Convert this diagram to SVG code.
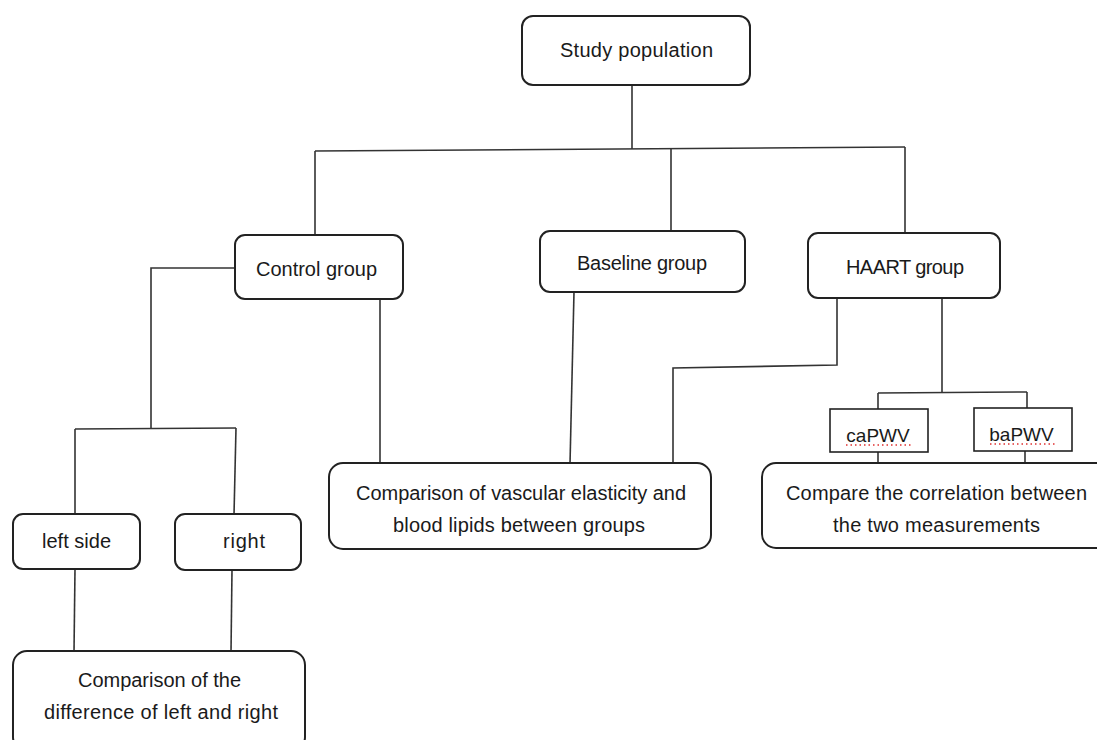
<svg xmlns="http://www.w3.org/2000/svg" width="1097" height="740" viewBox="0 0 1097 740">
<style>
.box{fill:#fff;stroke:#222;stroke-width:2}
.sq{fill:#fff;stroke:#222;stroke-width:1.6}
.ln{fill:none;stroke:#333;stroke-width:1.6}
text{font-family:"Liberation Sans",Arial,sans-serif;font-size:20px;fill:#1a1a1a;text-anchor:middle}
.pw{font-size:19px}
.sp{stroke:#e03030;stroke-width:1.5;stroke-dasharray:1.5 3;fill:none}
</style>
<rect width="1097" height="740" fill="#fff"/>
<g id="connectors">
<path class="ln" d="M632 86 V149"/>
<path class="ln" d="M315 151 L905 147"/>
<path class="ln" d="M315 151 V235"/>
<path class="ln" d="M671 148 V231"/>
<path class="ln" d="M905 147 V233"/>
<path class="ln" d="M235 268 H151 V428"/>
<path class="ln" d="M75 429 L236 428"/>
<path class="ln" d="M75 429 V515"/>
<path class="ln" d="M236 428 L234 515"/>
<path class="ln" d="M75 569 L74 652"/>
<path class="ln" d="M232 570 L231 652"/>
<path class="ln" d="M380 299 V464"/>
<path class="ln" d="M574 292 L570 464"/>
<path class="ln" d="M837 298 V365 L673 368 V464"/>
<path class="ln" d="M942 298 V392"/>
<path class="ln" d="M878 393 L1027 392"/>
<path class="ln" d="M878 393 V409"/>
<path class="ln" d="M1027 392 V408"/>
<path class="ln" d="M878 452 V464"/>
<path class="ln" d="M1025 451 V464"/>
</g>
<g id="study">
<rect class="box" x="522" y="16" width="228" height="69" rx="11"/>
<text x="636.5" y="57" textLength="153">Study population</text>
</g>
<g id="control">
<rect class="box" x="235" y="235" width="168" height="64" rx="10"/>
<text x="316.5" y="276" textLength="121">Control group</text>
</g>
<g id="baseline">
<rect class="box" x="540" y="231" width="205" height="61" rx="10"/>
<text x="642" y="270" textLength="130">Baseline group</text>
</g>
<g id="haart">
<rect class="box" x="808" y="233" width="192" height="65" rx="10"/>
<text x="905" y="274" textLength="118">HAART group</text>
</g>
<g id="leftside">
<rect class="box" x="13" y="514" width="127" height="55" rx="10"/>
<text x="76.5" y="548" textLength="69">left side</text>
</g>
<g id="right">
<rect class="box" x="175" y="514" width="126" height="56" rx="10"/>
<text x="244" y="548" textLength="42">right</text>
</g>
<g id="diff">
<rect class="box" x="13" y="651" width="292" height="100" rx="14"/>
<text x="159.5" y="687" textLength="163">Comparison of the</text>
<text x="161" y="719" textLength="234">difference of left and right</text>
</g>
<g id="vascular">
<rect class="box" x="329" y="463" width="382" height="86" rx="14"/>
<text x="521" y="500" textLength="330">Comparison of vascular elasticity and</text>
<text x="519" y="532" textLength="252">blood lipids between groups</text>
</g>
<g id="capwv">
<rect class="sq" x="830" y="409" width="98" height="43"/>
<text class="pw" x="878" y="442">caPWV</text>
<path class="sp" d="M846 445 H911"/>
</g>
<g id="bapwv">
<rect class="sq" x="974" y="408" width="98" height="43"/>
<text class="pw" x="1021.5" y="441">baPWV</text>
<path class="sp" d="M990 444 H1055"/>
</g>
<g id="correlation">
<rect class="box" x="762" y="463" width="360" height="85" rx="14"/>
<text x="936.5" y="500" textLength="301">Compare the correlation between</text>
<text x="936.5" y="532" textLength="207">the two measurements</text>
</g>
</svg>
